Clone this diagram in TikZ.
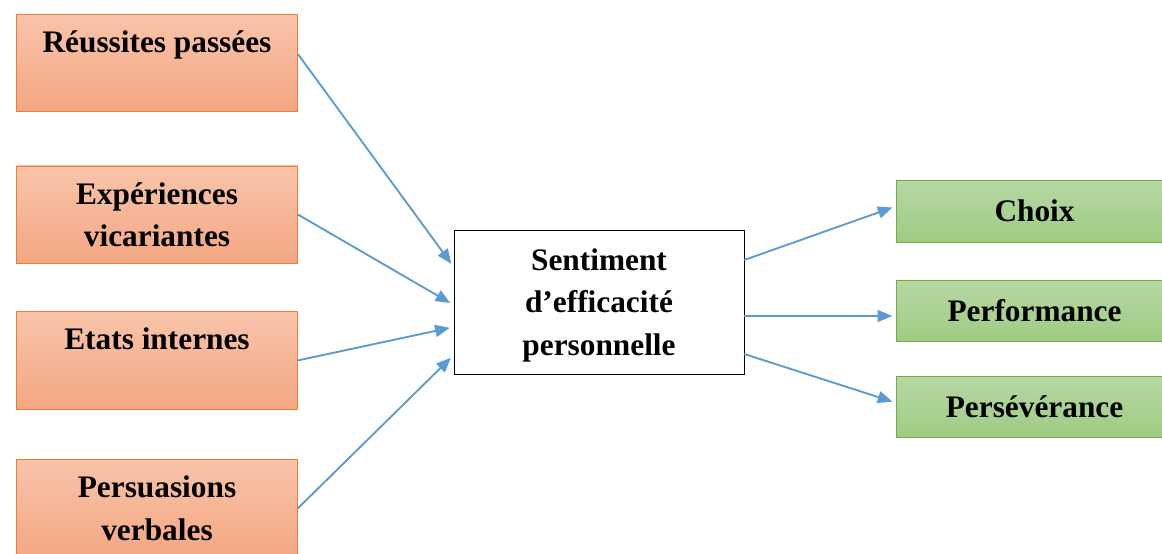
\documentclass[tikz,border=0pt]{standalone}
\usepackage{fontspec}
\setmainfont{Liberation Serif}
\usepackage{xcolor}
\usepackage{tikz}
\usetikzlibrary{arrows.meta,positioning}
\definecolor{accent-orange}{HTML}{ED7D31}
\definecolor{orange-light}{HTML}{F8C4AA}
\definecolor{orange-dark}{HTML}{F4A783}
\definecolor{accent-green}{HTML}{70AD47}
\definecolor{green-light}{HTML}{B7D7A3}
\definecolor{green-dark}{HTML}{9FCB83}
\definecolor{accent-blue}{HTML}{5B9BD5}

\begin{document}
\begin{tikzpicture}[
    source/.style={rectangle, draw=accent-orange, top color=orange-light, bottom color=orange-dark,
                   minimum width=211pt, minimum height=73pt, align=center, text depth=0pt,
                   font=\bfseries\fontsize{23.5}{32}\selectfont},
    effect/.style={rectangle, draw=accent-green, top color=green-light, bottom color=green-dark,
                   minimum width=199pt, minimum height=46pt, align=center,
                   font=\bfseries\fontsize{23.5}{32}\selectfont},
    core/.style={rectangle, draw=black, fill=white, minimum width=217.5pt,
                 minimum height=108pt, align=center, text depth=0pt,
                 font=\bfseries\fontsize{23.5}{32}\selectfont},
    arrow/.style={-{Triangle[length=11pt,width=9pt]}, draw=accent-blue, line width=1.4pt, shorten >=3pt},
    node distance=37.5pt
]
  \useasboundingbox (0,0) rectangle (871.5pt,-414.75pt);

  % Sources
  \node[source] (reus) at (117.75pt,-47pt) {Réussites passées\\\strut};
  \node[source, below=40.5pt of reus] (exp) {Expériences\\vicariantes};
  \node[source, below=36pt of exp] (etats) {Etats internes\\\strut};
  \node[source, below=of etats] (persu) {Persuasions\\verbales};

  % Self-efficacy
  \node[core] (sent) at (449.25pt,-226.5pt) {Sentiment\\d’efficacité\\personnelle};

  % Effects
  \node[effect, right=114pt of sent, yshift=-6.75pt] (perf) {\hspace*{8pt}Performance};
  \node[effect, above=28.5pt of perf] (choix) {\hspace*{8pt}Choix};
  \node[effect, below=25.5pt of perf] (pers) {\hspace*{8pt}Persévérance};

  % Arrows
  \draw[arrow] ([yshift=6.4pt]reus.east) -- ([yshift=26.25pt]sent.west);
  \draw[arrow] (exp.east) -- ([yshift=-2.25pt]sent.west);
  \draw[arrow] (etats.east) -- ([yshift=-18.75pt]sent.west);
  \draw[arrow] (persu.east) -- ([yshift=-39.75pt]sent.west);
  \draw[arrow] ([yshift=31.5pt]sent.east) -- ([yshift=3.75pt]choix.west);
  \draw[arrow] ([yshift=-10.5pt]sent.east) -- ([yshift=-3.75pt]perf.west);
  \draw[arrow] ([yshift=-39pt]sent.east) -- ([yshift=3pt]pers.west);

\end{tikzpicture}
\end{document}
